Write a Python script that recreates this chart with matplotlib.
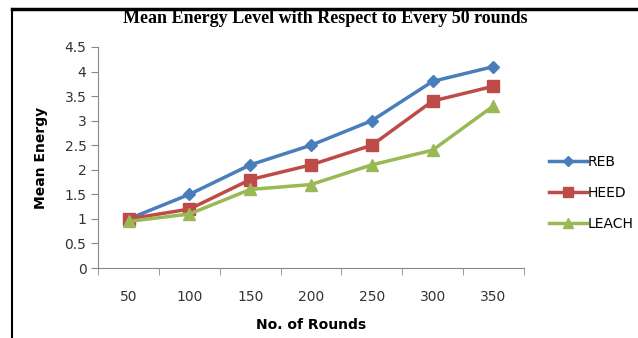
import numpy as np
import matplotlib.pyplot as plt
from matplotlib.lines import Line2D

rounds = ["50", "100", "150", "200", "250", "300", "350"]
reb = [1.0, 1.5, 2.1, 2.5, 3.0, 3.8, 4.1]
heed = [1.0, 1.2, 1.8, 2.1, 2.5, 3.4, 3.7]
leach = [0.95, 1.1, 1.6, 1.7, 2.1, 2.4, 3.3]
yticks = [0, 0.5, 1, 1.5, 2, 2.5, 3, 3.5, 4, 4.5]

fig = plt.figure(figsize=(6.38, 3.38), dpi=100)
ax = fig.add_axes([0.154, 0.207, 0.667, 0.654])

x = np.arange(len(rounds))
ax.plot(x, reb, color="#4A7EBB", lw=2.5, marker="D", ms=6, label="REB")
ax.plot(x, heed, color="#BE4B48", lw=2.5, marker="s", ms=8, label="HEED")
ax.plot(x, leach, color="#98B954", lw=2.5, marker="^", ms=8, label="LEACH")

ax.set_xlim(-0.5, len(rounds) - 0.5)
ax.set_ylim(0, 4.5)
ax.set_yticks(yticks)
ax.set_yticklabels([("%g" % v) for v in yticks])
ax.set_xticks(x)
ax.set_xticklabels(rounds)
ax.set_xticks(np.arange(-0.5, len(rounds)), minor=True)
ax.tick_params(axis="x", which="major", length=0, pad=16, labelsize=10, colors="#333333")
ax.tick_params(axis="x", which="minor", length=5, direction="out", color="#888888")
ax.tick_params(axis="y", length=5, color="#888888", labelsize=10, colors="#333333")
ax.tick_params(axis="y", color="#888888")

for s in ["top", "right"]:
    ax.spines[s].set_visible(False)
for s in ["left", "bottom"]:
    ax.spines[s].set_color("#888888")

ax.set_ylabel("Mean Energy", fontweight="bold", fontsize=10, labelpad=12)
ax.set_xlabel("No. of Rounds", fontweight="bold", fontsize=10, labelpad=10)

fig.text(0.51, 0.945, "Mean Energy Level with Respect to Every 50 rounds",
         ha="center", va="center", family="Liberation Serif", fontweight="bold", fontsize=13)

ax.legend(loc="center left", bbox_to_anchor=(1.03, 0.34), frameon=False,
          fontsize=10, handlelength=2.7, labelspacing=1.2, handletextpad=0.05,
          markerscale=0.85)

# border of the original figure
fig.add_artist(Line2D([0.019, 1.0], [0.973, 0.973], color="black", lw=2.5))
fig.add_artist(Line2D([0.019, 0.019], [0.0, 0.973], color="black", lw=1.5))

fig.savefig("out.png", dpi=100)
